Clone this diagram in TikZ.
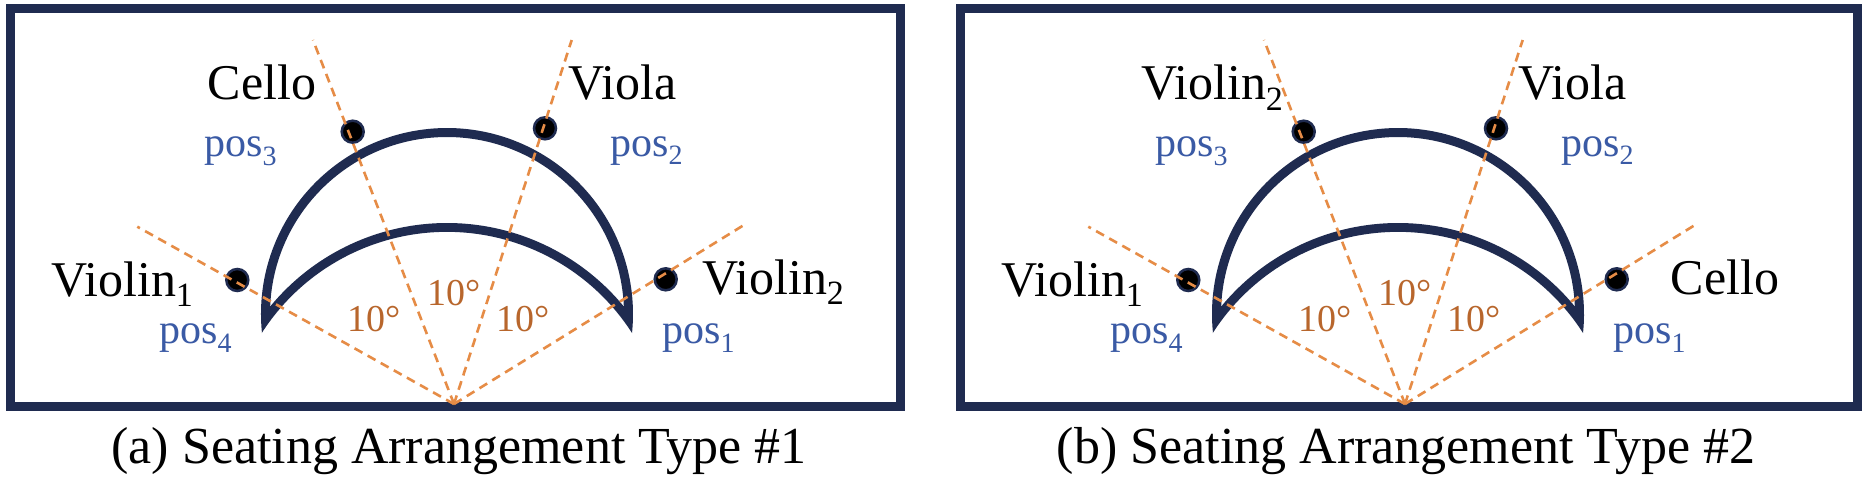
\documentclass[tikz,border=0pt]{standalone}
\usepackage{fontspec}
\setmainfont{Liberation Serif}
\definecolor{navy}{RGB}{31,43,80}
\definecolor{dashorange}{RGB}{230,140,70}
\definecolor{degbrown}{RGB}{184,102,44}
\definecolor{posblue}{RGB}{58,90,165}
\newcommand{\lsub}[1]{\raisebox{-10pt}{\fontsize{34}{34}\selectfont #1}}
\newcommand{\psub}[1]{\raisebox{-9pt}{\fontsize{28}{28}\selectfont #1}}
\newcommand{\seatpanel}{%
  \coordinate (apex) at (454,404);
  \coordinate (e1) at (746.7,223.3);
  \coordinate (e2) at (571.7,40);
  \coordinate (e3) at (313,40);
  \coordinate (e4) at (137.3,226.7);
  % crescent
  \fill[navy, even odd rule]
    (261.97,333) arc[start angle=174.14, end angle=365.86, radius=186]
                 arc[start angle=327.3, end angle=212.7, radius=220] -- cycle
    (270.16,306.5) arc[start angle=182.43, end angle=357.57, radius=177]
                 arc[start angle=320.55, end angle=219.45, radius=229] -- cycle;
  % seats
  \node[seat] (d1) at (665.7,279.3) {};
  \node[seat] (d2) at (545,128.3) {};
  \node[seat] (d3) at (352.7,131.7) {};
  \node[seat] (d4) at (237.3,280) {};
  % rays
  \draw[ray] (apex) -- (e1);
  \draw[ray] (apex) -- (e2);
  \draw[ray] (apex) -- (e3);
  \draw[ray] (apex) -- (e4);
  % angle labels
  \node[deg] (g1) at (347,331.7) {10°};
  \node[deg] (g2) at (427.5,305) {10°};
  \node[deg] (g3) at (496,331.7) {10°};
  % position labels
  \node[poslab] (p1) at (662,343) {pos\psub{1}};
  \node[poslab] (p2) at (610,156) {pos\psub{2}};
  \node[poslab] (p3) at (204,156.5) {pos\psub{3}};
  \node[poslab] (p4) at (159,343) {pos\psub{4}};
}
\begin{document}
\begin{tikzpicture}[x=1pt,y=-1pt,
  frame/.style={draw=navy, line width=9pt},
  seat/.style={circle, fill=black, draw=navy, line width=2.5pt, minimum size=22pt, inner sep=0pt},
  ray/.style={draw=dashorange, line width=2.6pt, dash pattern=on 9pt off 6pt},
  deg/.style={anchor=base west, inner sep=0pt, text=degbrown, font=\fontsize{38}{42}\selectfont},
  poslab/.style={anchor=base west, inner sep=0pt, text=posblue, font=\fontsize{42}{48}\selectfont},
  inst/.style={anchor=base west, inner sep=0pt, text=black, font=\fontsize{50}{60}\selectfont},
  captext/.style={anchor=base, inner sep=0pt, text=black, font=\fontsize{52}{60}\selectfont}]
\useasboundingbox (0,0) rectangle (1862,484);
\fill[white] (0,0) rectangle (1862,484);
\draw[frame] (10.5,8.5) rectangle (900,406);
\draw[frame] (960.5,8.5) rectangle (1857,406);
\begin{scope}[name prefix=a-]
  \seatpanel
  \node[inst] (cello) at (207.5,100) {Cello};
  \node[inst] (viola) at (568,100) {Viola};
  \node[inst] (v1) at (51,296) {Violin\lsub{1}};
  \node[inst] (v2) at (702,294) {Violin\lsub{2}};
\end{scope}
\begin{scope}[xshift=951pt, name prefix=b-]
  \seatpanel
  \node[inst] (v2) at (190,100) {Violin\lsub{2}};
  \node[inst] (viola) at (567,100) {Viola};
  \node[inst] (v1) at (50,296) {Violin\lsub{1}};
  \node[inst] (cello) at (719.5,294) {Cello};
\end{scope}
\node[captext] (capa) at (459,463) {(a) Seating Arrangement Type \#1};
\node[captext] (capb) at (1406,463) {(b) Seating Arrangement Type \#2};
\end{tikzpicture}
\end{document}
